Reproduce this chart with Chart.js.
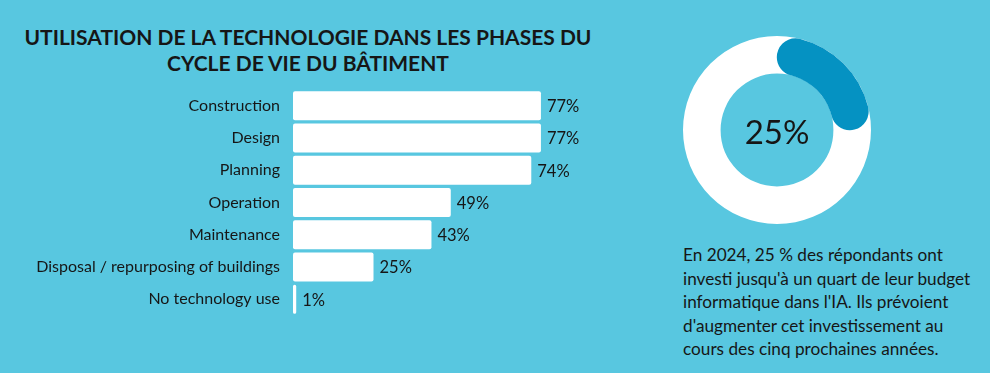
<!DOCTYPE html>
<html>
<head>
<meta charset="utf-8">
<script src="https://cdn.jsdelivr.net/npm/chart.js@4"></script>
<style>
  html, body { margin: 0; padding: 0; }
  body {
    width: 990px; height: 373px; overflow: hidden;
    background: #58C7E0; position: relative;
    font-family: Lato, 'Open Sans', sans-serif; color: #161616;
  }
  #title {
    position: absolute; left: 0; top: 24px; width: 616px;
    text-align: center; font-weight: 700; font-size: 21px; line-height: 26px;
  }
  #barWrap { position: absolute; left: 0; top: 67px; width: 620px; height: 271px; }
  .ring { position: absolute; left: 683px; top: 36px; width: 188px; height: 188px; }
  #center {
    position: absolute; left: 683px; top: 36px; width: 188px; height: 188px;
    line-height: 190px; text-align: center; font-size: 33px;
  }
  #note {
    position: absolute; left: 683px; top: 243px;
    font-size: 17.2px; line-height: 23.6px;
  }
</style>
</head>
<body>
<div id="title">UTILISATION DE LA TECHNOLOGIE DANS LES PHASES DU<br>CYCLE DE VIE DU BÂTIMENT</div>
<div id="barWrap"><canvas id="barChart"></canvas></div>
<div class="ring"><canvas id="trackChart"></canvas></div>
<div class="ring"><canvas id="shareChart"></canvas></div>
<div id="center"></div>
<div id="note">En 2024, 25 % des répondants ont<br>investi jusqu'à un quart de leur budget<br>informatique dans l'IA. Ils prévoient<br>d'augmenter cet investissement au<br>cours des cinq prochaines années.</div>

<script>
/* ── Data ── */
const phases = ['Construction', 'Design', 'Planning', 'Operation', 'Maintenance',
                'Disposal / repurposing of buildings', 'No technology use'];
const phaseShares = [77, 77, 74, 49, 43, 25, 1];

const budgetLabels = ['Jusqu\'à un quart du budget IT', 'Autres'];
const budgetShares = [25, 75];

const FONT = "Lato, 'Open Sans', sans-serif";

/* ── Value labels at bar ends ── */
const barValueLabels = {
  id: 'barValueLabels',
  afterDatasetsDraw(chart) {
    const ctx = chart.ctx;
    const meta = chart.getDatasetMeta(0);
    ctx.save();
    ctx.font = `16.5px ${FONT}`;
    ctx.fillStyle = '#161616';
    ctx.textAlign = 'left';
    ctx.textBaseline = 'middle';
    meta.data.forEach((bar, i) => {
      ctx.fillText(`${phaseShares[i]}%`, bar.x + 6, bar.y + 1);
    });
    ctx.restore();
  }
};

/* ── Bar chart ── */
new Chart(document.getElementById('barChart'), {
  type: 'bar',
  data: {
    labels: phases,
    datasets: [{
      data: phaseShares,
      backgroundColor: '#ffffff',
      borderWidth: 0,
      borderRadius: 2,
      borderSkipped: false,
      barPercentage: 0.9,
      categoryPercentage: 1,
      minBarLength: 3
    }]
  },
  options: {
    indexAxis: 'y',
    responsive: true,
    maintainAspectRatio: false,
    animation: false,
    layout: { padding: { top: 4.5, bottom: 4.5, left: 0, right: 5 } },
    plugins: { legend: { display: false }, tooltip: { enabled: false } },
    scales: {
      x: { min: 0, max: 100, display: false },
      y: {
        grid: { display: false, drawTicks: false },
        border: { display: false },
        ticks: {
          padding: 13,
          color: '#161616',
          font: { family: FONT, size: 16 }
        },
        afterFit(scale) { scale.width = 293; }
      }
    }
  },
  plugins: [barValueLabels]
});

/* ── Doughnut: white track + blue share ── */
const ringOptions = {
  responsive: true,
  maintainAspectRatio: false,
  animation: false,
  cutout: '60%',
  plugins: { legend: { display: false }, tooltip: { enabled: false } }
};

new Chart(document.getElementById('trackChart'), {
  type: 'doughnut',
  data: {
    labels: budgetLabels,
    datasets: [{ data: budgetShares, backgroundColor: ['#ffffff', '#ffffff'], borderWidth: 0 }]
  },
  options: ringOptions
});

new Chart(document.getElementById('shareChart'), {
  type: 'doughnut',
  data: {
    labels: budgetLabels,
    datasets: [{
      data: budgetShares,
      backgroundColor: ['#0592C2', 'rgba(0,0,0,0)'],
      borderWidth: 0,
      borderRadius: [19, 0]
    }]
  },
  options: ringOptions
});

document.getElementById('center').textContent = `${budgetShares[0]}%`;
</script>
</body>
</html>
